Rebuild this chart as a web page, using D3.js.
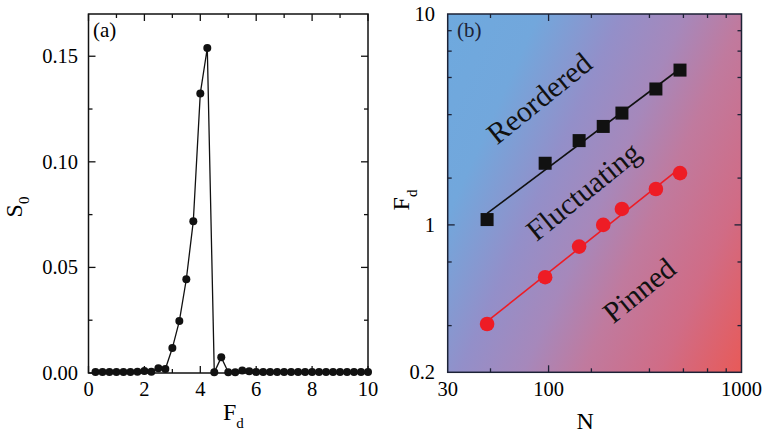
<!DOCTYPE html>
<html><head><meta charset="utf-8">
<script src="https://cdn.jsdelivr.net/npm/d3@7"></script>
<style>body{margin:0;background:#fff}svg{display:block}svg text{font-family:"Liberation Serif","Times New Roman",Times,serif}</style>
</head><body><svg id="c" width="768" height="437" font-family="Liberation Serif, Times New Roman, serif"></svg>
<script>
// Panel (a) data
const fdValues = [0.25,0.5,0.75,1,1.25,1.5,1.75,2,2.25,2.5,2.75,3,3.25,3.5,3.75,4,4.25,4.5,4.75,5,
  5.25,5.5,5.75,6,6.25,6.5,6.75,7,7.25,7.5,7.75,8,8.25,8.5,8.75,9,9.25,9.5,9.75,10];
const s0Values = [0.0005,0.0005,0.0005,0.0005,0.0005,0.0005,0.0006,0.0009,0.0006,0.0022,0.0019,0.0118,0.0246,0.0444,0.0719,0.1324,0.1539,0.0003,0.0074,0.0004,
  0.0004,0.0012,0.0008,0.0005,0.0005,0.0005,0.0005,0.0005,0.0005,0.0005,0.0005,0.0005,0.0005,0.0005,0.0005,0.0005,0.0005,0.0005,0.0005,0.0005];
const aXTicks = [0,2,4,6,8,10];
const aXMinor = [1,3,5,7,9];
const aYTicks = [0,0.05,0.10,0.15];
const aYMinor = [0.025,0.075,0.125];
// Panel (b) data
const nValues = [48,96,144,192,240,360,480];
const reorderF = [1.06,1.96,2.51,2.93,3.39,4.41,5.42];
const pinnedF = [0.339,0.565,0.789,1.0,1.19,1.48,1.76];
const bXTickLabels = [30,100,1000];
const bXMinor = [50,166.7,333.3,500,666.7,833.3];
const bYTickLabels = [0.2,1,10];
const bYMinor = [0.333,0.667,1.667,3.333,5,6.667,8.333];
const regionLabels = ["Reordered","Fluctuating","Pinned"];

const svg = d3.select("#c");
const FS = 20.5;

// ---------- Panel (a) ----------
const ax = d3.scaleLinear().domain([0,10]).range([88.5,368]);
const ay = d3.scaleLinear().domain([0,0.17]).range([373,14]);
const ga = svg.append("g");
ga.append("rect").attr("x",ax(0)).attr("y",ay(0.17)).attr("width",ax(10)-ax(0)).attr("height",ay(0)-ay(0.17))
  .attr("fill","none").attr("stroke","#111").attr("stroke-width",1.5);
function vt(g,xs,y0,dir,len,c){g.selectAll(null).data(xs).enter().append("line").attr("x1",d=>d).attr("x2",d=>d).attr("y1",y0).attr("y2",y0+dir*len).attr("stroke",c||"#111").attr("stroke-width",1.3);}
function ht(g,ys,x0,dir,len,c){g.selectAll(null).data(ys).enter().append("line").attr("y1",d=>d).attr("y2",d=>d).attr("x1",x0).attr("x2",x0+dir*len).attr("stroke",c||"#111").attr("stroke-width",1.3);}
vt(ga,aXTicks.map(ax),ay(0),-1,7); vt(ga,aXMinor.map(ax),ay(0),-1,4);
vt(ga,aXTicks.map(ax),ay(0.17),1,7); vt(ga,aXMinor.map(ax),ay(0.17),1,4);
ht(ga,aYTicks.map(ay),ax(0),1,7); ht(ga,aYMinor.map(ay),ax(0),1,4);
ht(ga,aYTicks.map(ay),ax(10),-1,7); ht(ga,aYMinor.map(ay),ax(10),-1,4);
ga.selectAll(null).data(aXTicks).enter().append("text").attr("x",d=>ax(d)).attr("y",396)
  .attr("text-anchor","middle").attr("font-size",FS).text(d=>d);
ga.selectAll(null).data(aYTicks).enter().append("text").attr("x",78).attr("y",d=>ay(d)+7)
  .attr("text-anchor","end").attr("font-size",FS).text(d=>d3.format(".2f")(d));
const aLine = d3.line().x((d,i)=>ax(fdValues[i])).y(d=>ay(d));
ga.append("path").attr("d",aLine(s0Values)).attr("fill","none").attr("stroke","#111").attr("stroke-width",1.3);
ga.selectAll(null).data(s0Values).enter().append("circle").attr("cx",(d,i)=>ax(fdValues[i])).attr("cy",d=>ay(d)).attr("r",4).attr("fill","#111");
ga.append("text").attr("x",93).attr("y",37).attr("font-size",21).text("(a)");
const xla = ga.append("text").attr("x",223).attr("y",420).attr("font-size",24);
xla.append("tspan").text("F"); xla.append("tspan").attr("font-size",15).attr("dy",8).text("d");
const yla = ga.append("text").attr("transform","translate(22,207) rotate(-90)").attr("text-anchor","middle").attr("font-size",24);
yla.append("tspan").text("S"); yla.append("tspan").attr("font-size",15).attr("dy",7).text("0");

// ---------- Panel (b) ----------
const bx = d3.scaleLog().domain([30,1000]).range([447.7,741.5]);
const by = d3.scaleLog().domain([0.2,10]).range([372.3,14]);
const gb = svg.append("g");
const defs = svg.append("defs");
const grad = defs.append("linearGradient").attr("id","bg").attr("x1","0").attr("y1","0").attr("x2","1.19").attr("y2","0.655");
[[0,"#6ea9de"],[0.2,"#72a7dc"],[0.38,"#938fc9"],[0.52,"#a688bb"],[0.65,"#c07a9e"],[0.82,"#d06c86"],[1,"#e85a58"]]
  .forEach(s=>grad.append("stop").attr("offset",s[0]).attr("stop-color",s[1]));
gb.append("rect").attr("x",bx(30)).attr("y",by(10)).attr("width",bx(1000)-bx(30)).attr("height",by(0.2)-by(10)).attr("fill","url(#bg)");
const AC = "#1c2236";
vt(gb,[100].map(bx),by(0.2),-1,7,AC); vt(gb,bXMinor.map(bx),by(0.2),-1,4,AC);
vt(gb,[100].map(bx),by(10),1,7,AC); vt(gb,bXMinor.map(bx),by(10),1,4,AC);
ht(gb,[1].map(by),bx(30),1,7,AC); ht(gb,bYMinor.map(by),bx(30),1,4,AC);
ht(gb,[1].map(by),bx(1000),-1,7,AC); ht(gb,bYMinor.map(by),bx(1000),-1,4,AC);
gb.append("rect").attr("x",bx(30)).attr("y",by(10)).attr("width",bx(1000)-bx(30)).attr("height",by(0.2)-by(10))
  .attr("fill","none").attr("stroke",AC).attr("stroke-width",1.5);
gb.selectAll(null).data(bXTickLabels).enter().append("text").attr("x",d=>bx(d)).attr("y",396)
  .attr("text-anchor","middle").attr("font-size",FS).text(d=>d);
gb.selectAll(null).data(bYTickLabels).enter().append("text").attr("x",435).attr("y",d=>by(d)+7)
  .attr("text-anchor","end").attr("font-size",FS).text(d=>d);
// power-law fits in log-log space
function fit(xs,ys){
  const lx=xs.map(Math.log10), ly=ys.map(Math.log10);
  const mx=d3.mean(lx), my=d3.mean(ly);
  const b=d3.sum(lx.map((v,i)=>(v-mx)*(ly[i]-my)))/d3.sum(lx.map(v=>(v-mx)*(v-mx)));
  const a=my-b*mx;
  return d3.extent(xs).map(x=>[x,Math.pow(10,a+b*Math.log10(x))]);
}
const bLine = d3.line().x(d=>bx(d[0])).y(d=>by(d[1]));
gb.append("path").attr("d",bLine(fit(nValues,reorderF))).attr("stroke","#111").attr("stroke-width",1.6).attr("fill","none");
gb.append("path").attr("d",bLine(fit(nValues,pinnedF))).attr("stroke","#ee1c25").attr("stroke-width",1.6).attr("fill","none");
gb.selectAll(null).data(reorderF).enter().append("rect").attr("x",(d,i)=>bx(nValues[i])-6.5).attr("y",d=>by(d)-6.5)
  .attr("width",13).attr("height",13).attr("fill","#111");
gb.selectAll(null).data(pinnedF).enter().append("circle").attr("cx",(d,i)=>bx(nValues[i])).attr("cy",d=>by(d)).attr("r",7.3).attr("fill","#ee1c25");
gb.append("text").attr("x",457).attr("y",37).attr("font-size",21).attr("fill",AC).text("(b)");
const labelPos = [[539,98],[583,191],[639,290]];
gb.selectAll(null).data(regionLabels).enter().append("text")
  .attr("transform",(d,i)=>`translate(${labelPos[i][0]},${labelPos[i][1]}) rotate(-39)`)
  .attr("text-anchor","middle").attr("dy","0.35em").attr("font-size",30).attr("fill","#111").text(d=>d);
gb.append("text").attr("x",bx(155)).attr("y",429).attr("text-anchor","middle").attr("font-size",24).text("N");
const ylb = gb.append("text").attr("transform","translate(409,200) rotate(-90)").attr("text-anchor","middle").attr("font-size",24);
ylb.append("tspan").text("F"); ylb.append("tspan").attr("font-size",15).attr("dy",8).text("d");
</script></body></html>
